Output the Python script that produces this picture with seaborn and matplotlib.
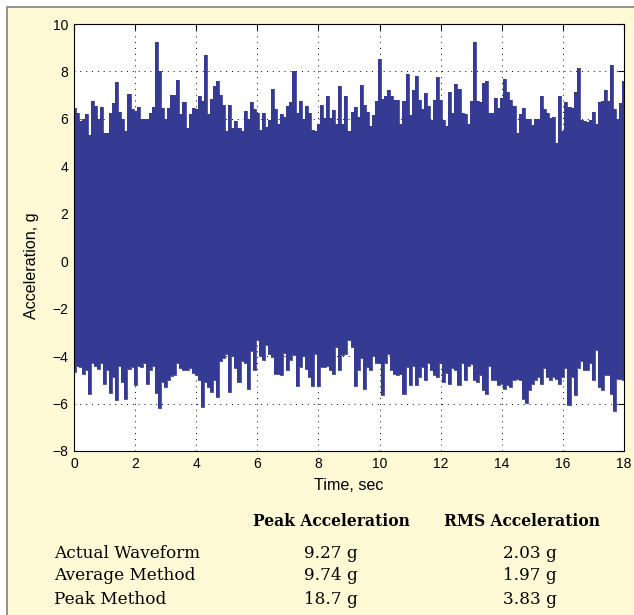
import numpy as np
import pandas as pd
import matplotlib
matplotlib.use("Agg")
import matplotlib.pyplot as plt
import seaborn as sns
from matplotlib.patches import Rectangle

# ---------------- data ----------------
time_s = np.linspace(0.0, 18.0, 181)   # sampling grid, 0.1 s bins

upper_env = [
    6.45, 6.25, 5.9, 6.0, 6.2, 5.3, 6.75, 6.55, 6.0, 6.5,
    5.4, 5.4, 6.25, 6.65, 7.54, 6.3, 6.0, 5.5, 7.06, 6.4,
    6.35, 6.5, 6.0, 6.0, 6.0, 6.25, 6.5, 9.25, 8.0, 6.45,
    6.0, 6.45, 7.0, 7.0, 7.65, 6.2, 6.7, 5.6, 6.2, 6.45,
    6.4, 6.97, 6.75, 8.7, 6.2, 6.83, 7.4, 7.58, 7.0, 6.6,
    5.5, 6.6, 5.6, 5.9, 5.6, 5.5, 6.35, 6.0, 6.7, 6.4,
    6.25, 5.55, 6.25, 5.65, 5.95, 7.26, 6.4, 5.8, 6.2, 6.1,
    6.55, 6.7, 8.0, 6.25, 6.76, 6.0, 6.55, 6.25, 5.55, 5.5,
    5.8, 6.6, 6.05, 6.97, 6.05, 6.38, 5.8, 7.37, 5.8, 6.97,
    5.5, 6.28, 6.5, 6.1, 7.42, 6.6, 6.3, 5.7, 6.15, 6.74,
    8.52, 6.85, 6.95, 7.23, 6.97, 6.8, 6.8, 5.8, 6.75, 7.89,
    6.15, 7.23, 7.82, 6.8, 6.4, 7.09, 6.55, 5.95, 6.8, 7.76,
    6.8, 5.96, 5.68, 7.13, 6.25, 7.47, 7.26, 6.25, 6.2, 5.8,
    6.74, 9.25, 6.74, 6.7, 7.5, 7.58, 6.25, 6.25, 6.9, 6.45,
    6.9, 7.68, 7.13, 6.8, 6.55, 5.4, 6.2, 6.45, 6.0, 6.0,
    5.75, 6.0, 6.0, 6.95, 6.4, 6.25, 6.05, 6.1, 5.0, 6.97,
    5.5, 6.7, 6.5, 6.45, 7.12, 8.14, 5.95, 5.9, 5.85, 5.96,
    6.3, 5.8, 6.7, 6.75, 7.23, 6.75, 8.28, 6.4, 6.0, 6.65,
    7.58,
]

lower_env = [
    -4.67, -4.4, -4.46, -4.74, -4.6, -5.6, -4.31, -4.4, -4.55, -4.31,
    -5.16, -4.6, -5.55, -4.88, -5.86, -4.4, -5.1, -5.79, -4.55, -4.46,
    -5.23, -4.4, -4.46, -4.31, -5.16, -4.6, -4.4, -5.55, -6.17, -5.1,
    -5.3, -5.02, -4.85, -4.8, -4.3, -4.5, -4.6, -4.6, -4.5, -4.7,
    -4.8, -5.0, -6.15, -5.1, -5.3, -5.5, -5.0, -5.72, -4.2, -4.1,
    -3.9, -5.5, -4.0, -4.5, -5.1, -4.2, -4.3, -5.4, -3.8, -4.6,
    -3.3, -4.0, -4.17, -3.55, -3.9, -4.03, -4.74, -4.74, -4.8, -3.85,
    -4.6, -4.17, -3.95, -5.28, -4.46, -4.0, -4.55, -4.88, -5.25, -3.9,
    -5.25, -4.46, -4.46, -4.4, -4.6, -4.74, -3.6, -4.6, -3.95, -3.9,
    -3.3, -3.6, -5.25, -4.6, -4.1, -5.37, -4.46, -4.6, -4.0, -4.3,
    -4.31, -5.65, -4.3, -3.9, -4.6, -4.74, -4.81, -4.74, -5.58, -4.46,
    -5.23, -4.4, -5.23, -4.88, -4.46, -5.02, -4.3, -4.6, -4.8, -4.88,
    -4.31, -5.1, -4.7, -5.16, -4.5, -4.6, -5.23, -4.3, -5.0, -4.4,
    -4.35, -5.0, -5.1, -4.8, -5.44, -5.58, -4.4, -5.02, -5.02, -5.23,
    -5.16, -5.37, -5.23, -5.3, -5.02, -4.95, -5.02, -5.79, -5.97, -5.44,
    -5.16, -5.02, -4.88, -5.16, -4.5, -4.88, -5.02, -4.88, -4.95, -5.16,
    -4.88, -4.5, -6.07, -4.88, -5.65, -4.5, -4.2, -4.6, -4.6, -4.31,
    -5.02, -3.75, -5.3, -5.44, -4.8, -4.8, -5.58, -6.3, -4.95, -4.95,
    -5.02,
]

x_ticks = list(range(0, 19, 2))
y_ticks = list(range(-8, 11, 2))

table_cols = ["Peak Acceleration", "RMS Acceleration"]
table_rows = ["Actual Waveform", "Average Method", "Peak Method"]
peak_vals = ["9.27 g", "9.74 g", "18.7 g"]
rms_vals = ["2.03 g", "1.97 g", "3.83 g"]

# ---------------- styling ----------------
BLUE = "#353B93"
CREAM = "#FFF9D6"
W, H = 634, 615

sns.set_theme(style="white")
plt.rcParams["font.family"] = ["Liberation Sans", "DejaVu Sans"]
plt.rcParams["axes.unicode_minus"] = True

df = pd.DataFrame({"t": time_s, "upper": upper_env, "lower": lower_env})

fig = plt.figure(figsize=(W / 100, H / 100), dpi=100, facecolor="white")
panel = Rectangle((7 / W, -0.2), 1.5, 1.2 - 7 / H, transform=fig.transFigure,
                  facecolor=CREAM, edgecolor="#8a8a8a", linewidth=1.3, zorder=-10)
fig.patches.append(panel)

ax = fig.add_axes([74 / W, 1 - 451 / H, 550 / W, 427 / H])
ax.set_zorder(1)
ax.set_facecolor("white")

ax.fill_between(df["t"], df["lower"], df["upper"], step="mid",
                color=BLUE, linewidth=0, zorder=2)
sns.lineplot(data=df, x="t", y="upper", drawstyle="steps-mid", color=BLUE,
             linewidth=0.6, errorbar=None, ax=ax, zorder=3)
sns.lineplot(data=df, x="t", y="lower", drawstyle="steps-mid", color=BLUE,
             linewidth=0.6, errorbar=None, ax=ax, zorder=3)

ax.set_xlim(0, 18)
ax.set_ylim(-8, 10)
ax.set_xticks(x_ticks)
ax.set_yticks(y_ticks)
ax.grid(True, color="black", linestyle=(0, (1, 5)), linewidth=0.7)
ax.set_axisbelow(True)
ax.tick_params(direction="in", top=True, right=True, length=4, width=0.8,
               labelsize=10, colors="black", pad=4)
for s in ax.spines.values():
    s.set_color("black")
    s.set_linewidth(0.8)

ax.set_xlabel("Time, sec", fontsize=11.6, color="black")
ax.set_ylabel("Acceleration, g", fontsize=11.6, color="black")
ax.xaxis.set_label_coords(0.5, (451 - 478) / 427)
ax.yaxis.set_label_coords((39 - 74) / 550, (451 - 266) / 427)

# ---------------- table below ----------------
serif = ["DejaVu Serif"]
def ftext(x, y, s, **kw):
    fig.text(x / W, 1 - y / H, s, family=serif, color="black", **kw)

col_x = [331, 522]
val_x = [331, 530]
ftext(col_x[0], 521, table_cols[0], fontsize=11.2, weight="bold", ha="center", va="center")
ftext(col_x[1], 521, table_cols[1], fontsize=11.2, weight="bold", ha="center", va="center")
row_y = [553, 576, 599]
for lab, pv, rv, yy in zip(table_rows, peak_vals, rms_vals, row_y):
    ftext(54, yy, lab, fontsize=12.2, ha="left", va="center")
    ftext(val_x[0], yy, pv, fontsize=12.2, ha="center", va="center")
    ftext(val_x[1], yy, rv, fontsize=12.2, ha="center", va="center")

fig.savefig("out.png", dpi=100, facecolor=fig.get_facecolor())
